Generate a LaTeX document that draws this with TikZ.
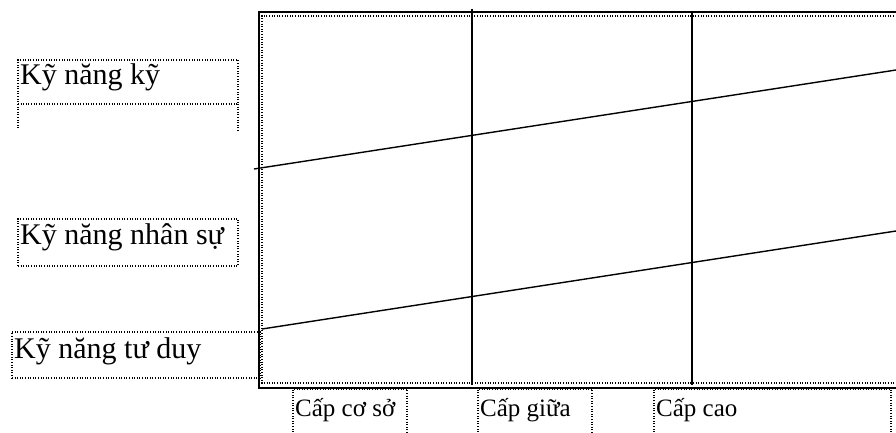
\documentclass[tikz,border=0pt]{standalone}
\usepackage{fontspec}
\setmainfont{Liberation Serif}
\usepackage{tikz}
\usetikzlibrary{positioning}

\tikzset{
  frame/.style={black, line width=1.6pt},
  dotbox/.style={draw=black, line width=1.1pt, dash pattern=on 1pt off 1.6pt,
    inner sep=0pt, outer sep=0pt},
  dotline/.style={black, line width=1.1pt, dash pattern=on 1pt off 1.6pt},
  skill/.style={font=\fontsize{30}{32}\selectfont, inner sep=0pt, anchor=base west},
  lvl/.style={font=\fontsize{25}{27}\selectfont, inner sep=0pt, anchor=base west}
}

\begin{document}
\begin{tikzpicture}[x=1pt, y=-1pt]
  \useasboundingbox (0,0) rectangle (896,433);

  % main frame, runs out past the right edge
  \draw[frame] (920,12) -- (259,12) -- (259,388) -- (920,388);
  \draw[dotline] (920,16) -- (262,16) -- (262,383) -- (920,383);

  % level dividers
  \coordinate (d1t) at (472,9);   \coordinate (d1b) at (472,385);
  \coordinate (d2t) at (692,13);  \coordinate (d2b) at (692,385);
  \draw[frame] (d1t) -- (d1b);
  \draw[frame] (d2t) -- (d2b);

  % skill borders
  \coordinate (u0) at (254,169);  \coordinate (u1) at (896,70);
  \coordinate (w0) at (262,329);  \coordinate (w1) at (896,231);
  \draw[black, line width=1.4pt] (u0) -- (u1);
  \draw[black, line width=1.4pt] (w0) -- (w1);

  % skill labels
  \node[dotbox, anchor=north west, minimum width=220pt, minimum height=44pt] (bKT) at (18,60) {};
  \draw[dotline] (bKT.south west) -- ++(0,26);
  \draw[dotline] (bKT.south east) -- ++(0,28);
  \node[skill] (tKT) at (20,85) {Kỹ năng kỹ};

  \node[dotbox, anchor=north west, minimum width=220pt, minimum height=47pt] (bNS) at (18,219) {};
  \node[skill] (tNS) at (20,244) {Kỹ năng nhân sự};

  \node[dotbox, anchor=north west, minimum width=248pt, minimum height=46pt] (bTD) at (12,332) {};
  \node[skill] (tTD) at (14,358) {Kỹ năng tư duy};

  % level labels, open at the bottom
  \foreach \xa/\xb/\name/\lab in {293/407/CS/Cấp cơ sở, 478/592/CG/Cấp giữa, 654/891/CC/Cấp cao}{
    \draw[dotline] (\xa,440) -- (\xa,389) -- (\xb,389) -- (\xb,440);
    \node[lvl] (t\name) at (\xa+2,416) {\lab};
  }
\end{tikzpicture}
\end{document}
